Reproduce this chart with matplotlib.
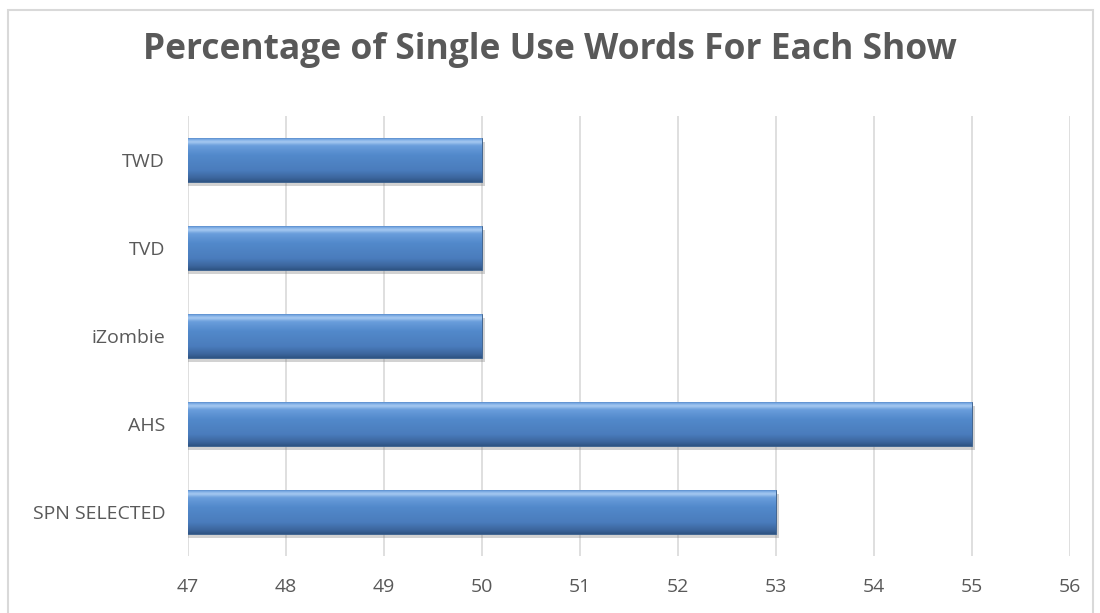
import matplotlib.pyplot as plt
import matplotlib.patheffects as pe
from matplotlib.colors import LinearSegmentedColormap
from matplotlib.patches import Rectangle
import numpy as np

shows = ["SPN SELECTED", "AHS", "iZombie", "TVD", "TWD"]
percent = [53, 55, 50, 50, 50]
x_ticks = [47, 48, 49, 50, 51, 52, 53, 54, 55, 56]

plt.rcParams['font.family'] = ['Open Sans', 'DejaVu Sans']

fig = plt.figure(figsize=(11, 6.13), dpi=100)
ax = fig.add_axes([0.171, 0.093, 0.8017, 0.7178])

# outer chart border
fig.patches.append(Rectangle((8 / 1100, -0.05), 1085 / 1100, 1.05 - 10 / 613,
                             transform=fig.transFigure, fill=False,
                             edgecolor="#d9d9d9", linewidth=1.5))

y = np.arange(len(shows))
bars = ax.barh(y, percent, height=0.5, color="#4f81bd", edgecolor="#385d8a",
               linewidth=0.6, zorder=3)

# vertical gradient to mimic the bevelled Excel bars
grad = LinearSegmentedColormap.from_list("bevel", [
    (0.0, "#2f5484"), (0.08, "#3b659c"), (0.25, "#4a7cbc"),
    (0.6, "#5289cb"), (0.82, "#6a9edc"), (0.9, "#a9cbf2"),
    (0.95, "#7eaee6"), (1.0, "#4a7dc0")])
col = np.linspace(0, 1, 64).reshape(-1, 1)
for b in bars:
    b.set_path_effects([pe.SimplePatchShadow(offset=(2, -3), shadow_rgbFace="#7f7f7f",
                                             alpha=0.35), pe.Normal()])
    x0 = 47
    x1 = b.get_width()
    y0 = b.get_y()
    y1 = y0 + b.get_height()
    im = ax.imshow(col, cmap=grad, aspect="auto", origin="lower",
                   extent=(x0, x1, y0, y1), zorder=4, interpolation="bicubic")
    im.set_clip_path(b)

ax.set_xlim(47, 56)
ax.set_ylim(-0.5, len(shows) - 0.5)
ax.set_xticks(x_ticks)
ax.set_yticks(y)
ax.set_yticklabels(shows)
ax.tick_params(axis="both", length=0, labelsize=14, labelcolor="#595959")
ax.tick_params(axis="x", pad=16)
ax.tick_params(axis="y", pad=16.5)
ax.grid(axis="x", color="#d9d9d9", linewidth=1.2, zorder=0)
ax.set_axisbelow(True)
for s in ax.spines.values():
    s.set_visible(False)

fig.text(0.5, 1 - 50 / 613, "Percentage of Single Use Words For Each Show",
         ha="center", va="center", fontsize=25.5, fontweight="bold", color="#595959")

fig.savefig("out.png", dpi=100)
